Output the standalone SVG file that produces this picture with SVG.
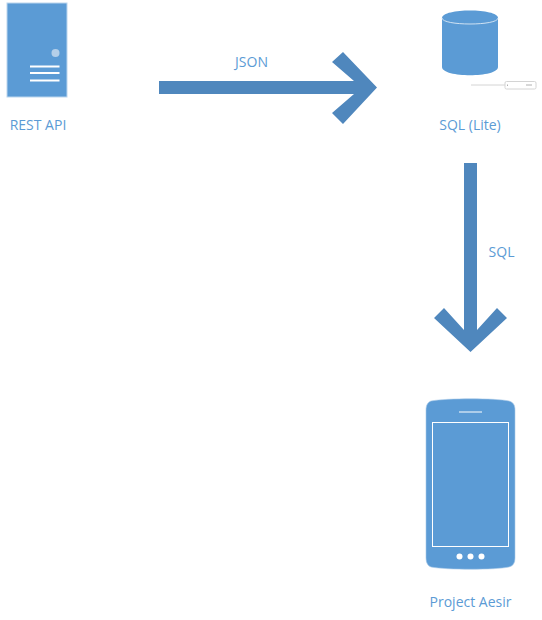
<svg xmlns="http://www.w3.org/2000/svg" width="542" height="620" viewBox="0 0 542 620">
<style>
.lbl{font-family:"Open Sans","Noto Sans",sans-serif;font-size:14px;fill:#5b9bd5;text-anchor:middle}
.fill{fill:#5b9bd5}
.wl{stroke:#fff;fill:none}
.arrow{fill:#4f87bd}
</style>
<rect width="542" height="620" fill="#fff"/>
<g id="rest-api">
<rect x="7" y="3" width="60" height="94" class="fill" stroke="#bcd6ee" stroke-width="1"/>
<circle cx="55.500" cy="53" r="4" fill="#b4cfe9"/>
<path d="M30 66.500H59.500M30 73H59.500M30 80.500H59.500" class="wl" stroke-width="2"/>
<text class="lbl" x="38" y="130">REST API</text>
</g>
<g id="sql-lite">
<path d="M442 18C442 8 498 8 498 18V67C498 78 442 78 442 67Z" class="fill"/>
<path d="M442 18C442 26 498 26 498 18" stroke="#cfe2f3" stroke-width="1" fill="none"/>
<path d="M471 85H505" stroke="#d4d4d4" fill="none"/>
<rect x="505" y="81.500" width="31" height="7.500" rx="1.500" fill="#fff" stroke="#d4d4d4"/>
<path d="M507.500 84.500V86M526 85H532" stroke="#b0b0b0" fill="none"/>
<text class="lbl" x="470" y="130">SQL (Lite)</text>
</g>
<g id="project-aesir">
<path d="M431 401C447 398 495 398 509 401C513 402 515 405 515 410V558C515 563 513 566 509 567C495 570 447 570 431 567C428 566 426 563 426 558V410C426 405 428 402 431 401Z" class="fill" stroke="#a9c9e8" stroke-width=".6"/>
<path d="M459 412H482" class="wl" stroke-width="1"/>
<rect x="432.500" y="422.500" width="76" height="124" class="wl" stroke="#e8f8f8" stroke-width="1"/>
<circle cx="459.500" cy="556.500" r="3" fill="#fff"/>
<circle cx="470.500" cy="556.500" r="3" fill="#fff"/>
<circle cx="481.500" cy="556.500" r="3" fill="#fff"/>
<text class="lbl" x="470.500" y="607">Project Aesir</text>
</g>
<g id="connectors">
<path class="arrow" d="M159 81H354L332 62L343 52L377 87.500L343 124L332 113L354 94H159Z"/>
<path class="arrow" d="M464 163H477V330L497 308L507 318L470.500 352L434 318L444 308L464 330Z"/>
<text class="lbl" x="251.500" y="67">JSON</text>
<text class="lbl" x="501.500" y="257">SQL</text>
</g>
</svg>
